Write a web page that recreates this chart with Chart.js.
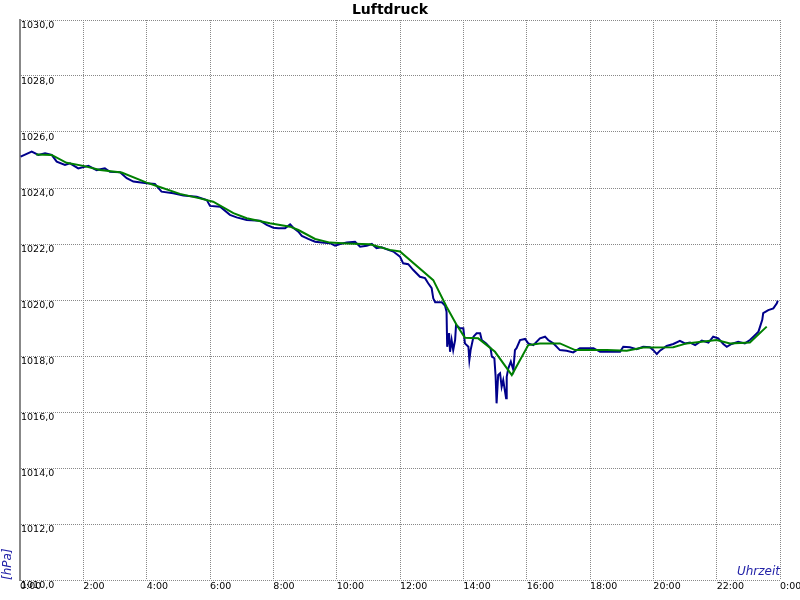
<!DOCTYPE html>
<html>
<head>
  <meta charset="utf-8">
  <title>Luftdruck</title>
  <script src="https://cdn.jsdelivr.net/npm/chart.js"></script>
  <style>
    body {
      margin: 0;
      background: #ffffff;
    }
    canvas {
      display: block;
    }
  </style>
</head>
<body>
  <canvas id="pressureChart" width="800" height="600"></canvas>

  <script>
    // times in decimal hours, pressure in hPa
    const measuredTimes = [
      0.02, 0.37, 0.58, 0.79, 1.00, 1.16, 1.42, 1.58, 1.84, 2.16, 2.42, 2.68, 2.84,
      3.16, 3.37, 3.58, 4.00, 4.26, 4.47, 4.84, 5.16, 5.58, 5.90, 6.00, 6.32, 6.63,
      6.84, 7.16, 7.58, 7.79, 8.00, 8.16, 8.37, 8.53, 8.63, 8.79, 8.90, 9.10, 9.32,
      9.53, 9.79, 9.95, 10.11, 10.32, 10.58, 10.74, 10.95, 11.11, 11.26, 11.42, 11.63,
      11.79, 12.00, 12.10, 12.26, 12.42, 12.63, 12.79, 12.89, 13.00, 13.05, 13.11,
      13.32, 13.42, 13.47, 13.49, 13.55, 13.58, 13.63, 13.68, 13.74, 13.77, 13.89,
      14.00, 14.05, 14.16, 14.19, 14.23, 14.32, 14.42, 14.53, 14.58, 14.72, 14.86,
      14.90, 14.98, 15.02, 15.05, 15.10, 15.16, 15.21, 15.26, 15.35, 15.37, 15.42,
      15.50, 15.58, 15.63, 15.68, 15.79, 15.95, 16.05, 16.21, 16.42, 16.58, 16.68,
      16.84, 17.05, 17.26, 17.47, 17.68, 18.11, 18.32, 18.63, 18.95, 19.05, 19.26,
      19.47, 19.68, 19.89, 20.00, 20.11, 20.21, 20.42, 20.63, 20.84, 21.00, 21.16,
      21.32, 21.53, 21.74, 21.89, 22.05, 22.21, 22.32, 22.47, 22.68, 22.89, 23.05,
      23.16, 23.32, 23.44, 23.47, 23.63, 23.79, 23.90, 23.93
    ];
    const measuredPressure = [
      1025.12, 1025.30, 1025.18, 1025.24, 1025.18, 1024.94, 1024.82, 1024.88, 1024.70,
      1024.79, 1024.64, 1024.70, 1024.58, 1024.56, 1024.35, 1024.23, 1024.17, 1024.14,
      1023.87, 1023.81, 1023.73, 1023.69, 1023.57, 1023.36, 1023.33, 1023.04, 1022.95,
      1022.86, 1022.83, 1022.68, 1022.58, 1022.56, 1022.56, 1022.70, 1022.58, 1022.44,
      1022.29, 1022.18, 1022.08, 1022.05, 1022.03, 1021.94, 1022.00, 1022.05, 1022.08,
      1021.90, 1021.94, 1022.00, 1021.85, 1021.88, 1021.79, 1021.73, 1021.55, 1021.31,
      1021.28, 1021.07, 1020.83, 1020.78, 1020.60, 1020.42, 1020.06, 1019.92, 1019.92,
      1019.80, 1019.58, 1018.33, 1018.82, 1018.15, 1018.57, 1018.21, 1018.57, 1019.11,
      1018.99, 1018.99, 1018.45, 1018.33, 1017.86, 1018.21, 1018.69, 1018.81, 1018.81,
      1018.57, 1018.45, 1018.28, 1017.98, 1017.92, 1017.26, 1016.31, 1017.32, 1017.38,
      1016.90, 1017.14, 1016.49, 1017.26, 1017.56, 1017.80, 1017.50, 1018.21, 1018.28,
      1018.57, 1018.61, 1018.45, 1018.39, 1018.63, 1018.69, 1018.57, 1018.45, 1018.21,
      1018.19, 1018.13, 1018.28, 1018.28, 1018.15, 1018.15, 1018.15, 1018.33, 1018.31,
      1018.24, 1018.33, 1018.31, 1018.21, 1018.07, 1018.19, 1018.36, 1018.43, 1018.54,
      1018.45, 1018.48, 1018.39, 1018.55, 1018.48, 1018.69, 1018.63, 1018.43, 1018.33,
      1018.43, 1018.51, 1018.45, 1018.57, 1018.69, 1018.87, 1019.29, 1019.53, 1019.64,
      1019.70, 1019.88, 1019.98
    ];

    const smoothTimes = [
      0.51, 1.00, 1.47, 2.00, 2.53, 3.21, 4.00, 4.32, 5.05, 5.68, 6.10, 6.74, 7.16,
      7.89, 8.53, 8.79, 9.32, 9.79, 10.32, 11.05, 11.68, 12.00, 13.05, 13.47, 13.79,
      14.05, 14.47, 15.00, 15.53, 16.05, 16.42, 17.05, 17.53, 18.53, 19.16, 19.68,
      20.63, 21.05, 22.00, 22.42, 23.05, 23.58
    ];
    const smoothPressure = [
      1025.20, 1025.18, 1024.90, 1024.79, 1024.64, 1024.55, 1024.19, 1024.07, 1023.79,
      1023.63, 1023.51, 1023.10, 1022.92, 1022.74, 1022.62, 1022.50, 1022.18, 1022.05,
      1022.02, 1021.99, 1021.79, 1021.73, 1020.71, 1019.76, 1019.11, 1018.65, 1018.63,
      1018.15, 1017.32, 1018.39, 1018.45, 1018.45, 1018.21, 1018.21, 1018.19, 1018.30,
      1018.31, 1018.45, 1018.57, 1018.45, 1018.48, 1019.05
    ];

    const hourTicks = [0, 2, 4, 6, 8, 10, 12, 14, 16, 18, 20, 22, 24];
    const pressureTicks = [1010, 1012, 1014, 1016, 1018, 1020, 1022, 1024, 1026, 1028, 1030];

    const toPoints = (xs, ys) => xs.map((x, i) => ({ x: x, y: ys[i] }));

    const gridGray = '#888888';
    const labelBlue = '#2323a8';

    new Chart(document.getElementById('pressureChart').getContext('2d'), {
      type: 'line',
      data: {
        datasets: [
          {
            label: 'Luftdruck',
            data: toPoints(measuredTimes, measuredPressure),
            borderColor: '#00008b',
            borderWidth: 2,
            pointRadius: 0,
            tension: 0,
            order: 1
          },
          {
            label: 'Mittel',
            data: toPoints(smoothTimes, smoothPressure),
            borderColor: '#008000',
            borderWidth: 2,
            pointRadius: 0,
            tension: 0,
            order: 0
          }
        ]
      },
      options: {
        responsive: false,
        animation: false,
        devicePixelRatio: 1,
        layout: { padding: { left: 0, right: 20, top: 0, bottom: 0 } },
        plugins: {
          legend: { display: false },
          tooltip: { enabled: false },
          title: {
            display: true,
            text: 'Luftdruck',
            color: '#000000',
            font: { family: 'DejaVu Sans', size: 14, weight: 'bold', lineHeight: 1.2 },
            padding: { top: 2, bottom: 1.2 }
          }
        },
        scales: {
          x: {
            type: 'linear',
            min: 0,
            max: 24,
            afterBuildTicks: (scale) => {
              scale.ticks = hourTicks.map(v => ({ value: v }));
            },
            afterFit: (scale) => {
              scale.height = 20;
              scale.paddingLeft = 0;
              scale.paddingRight = 0;
            },
            ticks: {
              align: 'start',
              autoSkip: false,
              maxRotation: 0,
              padding: 1,
              color: '#000000',
              font: { family: 'DejaVu Sans', size: 9.5 },
              callback: (v) => (v % 24) + ':00'
            },
            grid: { color: gridGray, lineWidth: 1, drawTicks: false },
            border: { display: false, dash: [1, 1] },
            title: {
              display: true,
              text: 'Uhrzeit',
              align: 'end',
              color: labelBlue,
              font: { family: 'DejaVu Sans', size: 12, style: 'italic' },
              padding: { top: 0, bottom: 21 }
            }
          },
          y: {
            min: 1010,
            max: 1030,
            afterBuildTicks: (scale) => {
              scale.ticks = pressureTicks.map(v => ({ value: v }));
            },
            afterFit: (scale) => {
              scale.width = 20;
              scale.paddingTop = 0;
              scale.paddingBottom = 0;
            },
            ticks: {
              mirror: true,
              padding: 1,
              labelOffset: 6,
              color: '#000000',
              font: { family: 'DejaVu Sans', size: 9.5 },
              callback: (v) => v.toFixed(1).replace('.', ',')
            },
            grid: { color: gridGray, lineWidth: 1, drawTicks: false },
            border: { display: true, color: gridGray, width: 2, dash: [1, 1] },
            title: {
              display: true,
              text: '[hPa]',
              align: 'start',
              color: labelBlue,
              font: { family: 'DejaVu Sans', size: 12, style: 'italic' },
              padding: { top: 1, bottom: 0 }
            }
          }
        }
      }
    });
  </script>
</body>
</html>
